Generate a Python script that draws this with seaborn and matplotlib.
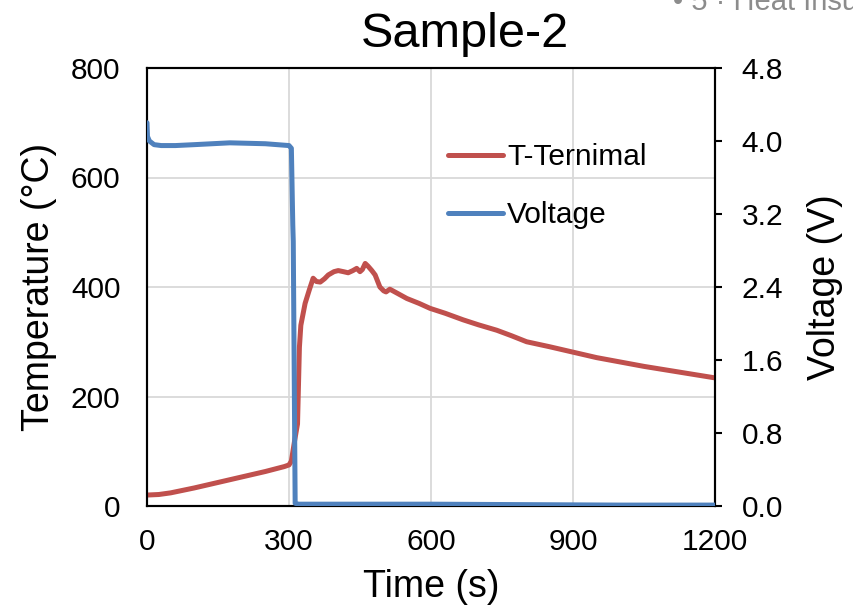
import numpy as np
import pandas as pd
import matplotlib
matplotlib.use("Agg")
import matplotlib.pyplot as plt
import seaborn as sns

# ---- data ----
time_T = [0, 25, 50, 100, 150, 200, 250, 290, 300, 305, 312, 318, 320, 322, 325, 334, 343,
          351, 358, 366, 375, 383, 395, 404, 415, 425, 435, 443, 450, 455, 461, 467, 475,
          482, 492, 500, 505, 513, 530, 549, 575, 598, 630, 668, 700, 739, 770, 802, 850,
          900, 950, 1000, 1050, 1100, 1150, 1200]
temp = [20, 21, 24, 33, 43, 53, 63, 72, 75, 82, 120, 150, 220, 290, 330, 370, 395,
        416, 410, 409, 415, 422, 428, 430, 428, 426, 430, 434, 428, 432, 443, 438, 430,
        422, 400, 393, 391, 396, 388, 379, 370, 361, 352, 340, 331, 321, 311, 300, 291,
        281, 271, 263, 255, 248, 241, 234]

time_V = [0, 1, 5, 15, 30, 60, 100, 175, 250, 300, 305, 308, 309, 313, 320, 400, 600,
          800, 1000, 1200]
volt = [4.2, 4.05, 4.0, 3.96, 3.95, 3.95, 3.96, 3.98, 3.97, 3.95, 3.92, 3.08, 2.9, 0.03,
        0.02, 0.02, 0.02, 0.015, 0.01, 0.01]

x_ticks = [0, 300, 600, 900, 1200]
t_ticks = [0, 200, 400, 600, 800]
v_ticks = [0.0, 0.8, 1.6, 2.4, 3.2, 4.0, 4.8]

title = "Sample-2"
label_T = "T-Ternimal"
label_V = "Voltage"
corner_text = "• 5 · Heat Insu"

red = "#C0504D"
blue = "#4F81BD"

sns.set_theme(style="white")
plt.rcParams["font.family"] = ["Liberation Sans", "DejaVu Sans"]
plt.rcParams["text.color"] = "black"
plt.rcParams["axes.labelcolor"] = "black"

fig = plt.figure(figsize=(8.54, 6.08), dpi=100)
ax = fig.add_axes([147 / 854, 102 / 608, 568 / 854, 438 / 608])
ax2 = ax.twinx()

dfT = pd.DataFrame({"Time": time_T, "Temp": temp})
dfV = pd.DataFrame({"Time": time_V, "Volt": volt})

sns.lineplot(data=dfT, x="Time", y="Temp", ax=ax, color=red, lw=3.6, label=label_T,
             legend=False, zorder=3, solid_capstyle="round", solid_joinstyle="round")
sns.lineplot(data=dfV, x="Time", y="Volt", ax=ax2, color=blue, lw=3.6, label=label_V,
             legend=False, zorder=3, solid_capstyle="round", solid_joinstyle="round")

ax.set_xlim(0, 1200)
ax.set_ylim(0, 800)
ax2.set_ylim(0, 4.8)
ax.set_xticks(x_ticks)
ax.set_yticks(t_ticks)
ax2.set_yticks(v_ticks)
ax2.set_yticklabels([f"{v:.1f}" for v in v_ticks])

ax.grid(True, color="#d9d9d9", lw=1.3)
ax2.grid(False)
ax.set_axisbelow(True)

for a in (ax, ax2):
    for s in a.spines.values():
        s.set_color("black")
        s.set_linewidth(1.5)
        s.set_visible(True)

ax.tick_params(axis="x", labelsize=21.5, length=0, pad=16, colors="black")
ax.tick_params(axis="y", labelsize=21.5, length=0, pad=19, colors="black")
ax2.tick_params(axis="y", labelsize=21.5, length=5, width=1.5, direction="out",
                pad=14, colors="black", right=True)

ax.set_xlabel("Time (s)", fontsize=27, labelpad=9, color="black")
ax.set_ylabel("Temperature (°C)", fontsize=27, labelpad=10, color="black")
ax2.set_ylabel("Voltage (V)", fontsize=27, labelpad=17, color="black")
ax.set_title(title, fontsize=35, pad=15, x=(465 - 147) / 568, color="black")

h1, l1 = ax.get_legend_handles_labels()
h2, l2 = ax2.get_legend_handles_labels()
leg = ax2.legend(h1 + h2, l1 + l2, loc="upper left", bbox_to_anchor=(0.53, 0.828),
                 frameon=False, fontsize=21.5, handlelength=1.85, handletextpad=0.13,
                 labelspacing=1.0, borderpad=0, borderaxespad=0, labelcolor="black")

fig.text(673 / 854, 1 - 9.5 / 608, corner_text, color="#8c8c8c", fontsize=21,
         ha="left", va="baseline")

fig.savefig("out.png", dpi=100)
